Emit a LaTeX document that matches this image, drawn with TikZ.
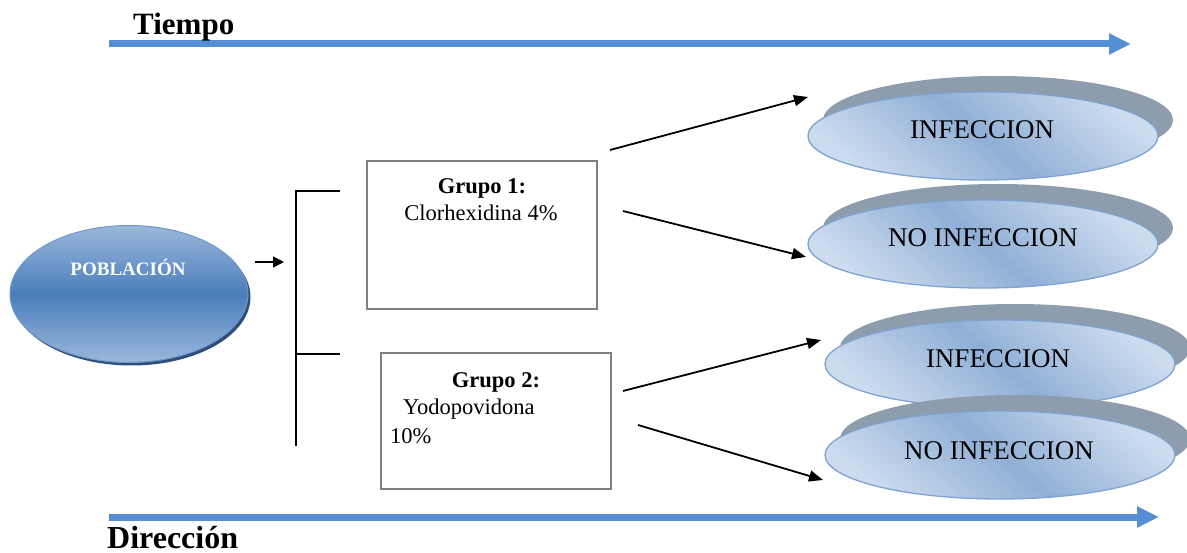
\documentclass[tikz,border=0pt]{standalone}
\usepackage{fontspec}
\setmainfont{Liberation Serif}
\usetikzlibrary{arrows.meta,shapes.geometric,shadows}
\definecolor{axisblue}{HTML}{558ED5}
\definecolor{pobmid}{HTML}{4A7EBB}
\definecolor{pobedge}{HTML}{9BB7DB}
\definecolor{pobshadow}{HTML}{2F4F7A}
\definecolor{elllight}{HTML}{CCDBEE}
\definecolor{ellmid}{HTML}{90AFD6}
\definecolor{elldraw}{HTML}{7EA3D0}
\definecolor{ellshadow}{HTML}{8E9DAD}
\definecolor{boxgray}{HTML}{7F7F7F}
\tikzset{
  axisarrow/.style={draw=axisblue, line width=7pt, -{Triangle[length=22pt,width=20pt]}},
  axislabel/.style={font=\bfseries\fontsize{31}{33}\selectfont, anchor=base west, inner sep=0pt},
  conn/.style={draw=black, line width=1.8pt, -{Triangle[length=14pt,width=11pt]}},
  pobstyle/.style={ellipse, inner sep=0pt, minimum width=238pt, minimum height=137pt,
    top color=pobedge, bottom color=pobedge, middle color=pobmid, draw=pobmid!80!white, line width=1pt,
    general shadow={fill=pobshadow, shadow xshift=2.5pt, shadow yshift=-3pt}},
  outcome/.style={ellipse, inner sep=0pt, minimum width=350pt, minimum height=88pt,
    shading=axis, top color=elllight, bottom color=elllight, middle color=ellmid, shading angle=-40,
    draw=elldraw, line width=1.3pt,
    general shadow={fill=ellshadow, shadow xshift=15pt, shadow yshift=16pt}},
  outtext/.style={font=\fontsize{27}{29}\selectfont, anchor=base, inner sep=0pt},
  groupbox/.style={draw=boxgray, line width=2pt, inner sep=0pt},
  boxtext/.style={font=\fontsize{22.5}{24}\selectfont, anchor=base, inner sep=0pt},
  boxtitle/.style={boxtext, font=\bfseries\fontsize{22.5}{24}\selectfont},
  bracket/.style={draw=black, line width=1.3pt}
}
\begin{document}
\begin{tikzpicture}[x=1pt,y=-1pt]
\useasboundingbox (0,0) rectangle (1187,553);

% time axis
\coordinate (t0) at (109,44);
\coordinate (t1) at (1131,44);
\draw[axisarrow] (t0) -- (t1);
\node[axislabel] (tiempo) at (133,35) {Tiempo};

% direction axis
\coordinate (d0) at (109,517);
\coordinate (d1) at (1159,517);
\draw[axisarrow] (d0) -- (d1);
\node[axislabel, font=\bfseries\fontsize{32}{34}\selectfont] (direccion) at (107,548) {Dirección};

% population
\node[pobstyle] (pob) at (129,294) {};
\node[font=\bfseries\fontsize{19}{21}\selectfont, text=white, anchor=base, inner sep=0pt] (pobtext) at (128,276) {POBLACIÓN};

\coordinate (pa0) at (255,262);
\coordinate (pa1) at (284,262);
\draw[conn, line width=1.6pt, -{Triangle[length=11pt,width=11pt]}] (pa0) -- (pa1);

% bracket
\coordinate (b0) at (296,191);
\coordinate (b1) at (296,446);
\coordinate (b0r) at (340,191);
\coordinate (bm) at (296,354);
\coordinate (bmr) at (340,354);
\draw[bracket] (b0r) -- (b0) -- (b1);
\draw[bracket] (bm) -- (bmr);

% group boxes
\node[groupbox, minimum width=230pt, minimum height=148pt] (g1) at (482,235) {};
\node[boxtitle] (g1t) at (482,194) {Grupo 1:};
\node[boxtext] (g1s) at (481,221) {Clorhexidina 4\%};

\node[groupbox, minimum width=230pt, minimum height=136pt] (g2) at (496,421) {};
\node[boxtitle] (g2t) at (496,388) {Grupo 2:};
\node[boxtext, anchor=base west] (g2s) at (403,415) {Yodopovidona};
\node[boxtext, anchor=base west] (g2p) at (390,443) {10\%};

% outcome ellipses
\node[outcome] (e1) at (983,136) {};
\node[outtext] (e1t) at (982,139) {INFECCION};
\node[outcome] (e2) at (983,244) {};
\node[outtext] (e2t) at (983,247) {NO INFECCION};
\node[outcome] (e3) at (1000,364) {};
\node[outtext] (e3t) at (998,368) {INFECCION};
\node[outcome] (e4) at (1000,455) {};
\node[outtext] (e4t) at (999,459) {NO INFECCION};

% arrows
\coordinate (a1s) at (610,150);
\coordinate (a1e) at (808,97);
\coordinate (a2s) at (623,211);
\coordinate (a2e) at (806,257);
\coordinate (a3s) at (623,391);
\coordinate (a3e) at (821,340);
\coordinate (a4s) at (638,425);
\coordinate (a4e) at (823,480);
\draw[conn] (a1s) -- (a1e);
\draw[conn] (a2s) -- (a2e);
\draw[conn] (a3s) -- (a3e);
\draw[conn] (a4s) -- (a4e);
\end{tikzpicture}
\end{document}
